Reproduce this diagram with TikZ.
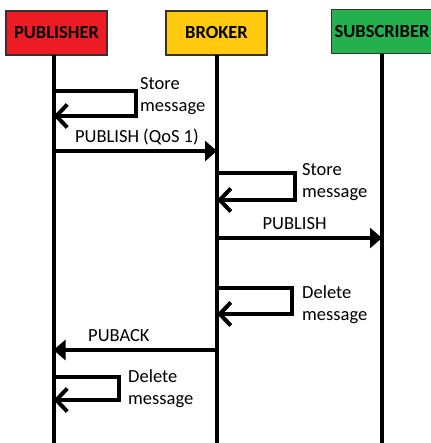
\documentclass[tikz,border=0pt]{standalone}
\usepackage{fontspec}
\setmainfont{Carlito}
\usepackage{xcolor}
\usetikzlibrary{arrows.meta}

\definecolor{pubred}{HTML}{ED1C24}
\definecolor{brkyellow}{HTML}{FFC90E}
\definecolor{subgreen}{HTML}{22B14C}

\tikzset{
  actor/.style={draw=black!80, line width=1.2pt, minimum width=101pt, minimum height=44pt,
    inner sep=0pt, font=\bfseries\fontsize{18.5}{22}\selectfont},
  lifeline/.style={line width=4pt},
  msg/.style={line width=4pt, -{Triangle[length=12pt,width=20pt]}},
  selfmsg/.style={line width=4pt, -{Straight Barb[length=11pt,width=23pt]}},
  note/.style={font=\fontsize{18.5}{22}\selectfont, align=left, inner sep=0pt, anchor=north west},
  label/.style={font=\fontsize{18.5}{22}\selectfont, inner sep=0pt, anchor=north},
}

\begin{document}
\begin{tikzpicture}[x=1pt,y=-1pt]
\useasboundingbox (0,0) rectangle (430,443);

% the three parties
\node[actor, fill=pubred] (pub) at (56.5,33) {PUBLISHER};
\node[actor, fill=brkyellow] (brk) at (216.5,33) {BROKER};
\node[actor, fill=subgreen] (sub) at (382,31.5) {SUBSCRIBER};

% lifelines
\coordinate (pubtop) at (53.5,55);
\coordinate (pubend) at (53.5,443);
\coordinate (brktop) at (217,55);
\coordinate (brkend) at (217,443);
\coordinate (subtop) at (382,54);
\coordinate (subend) at (382,443);
\draw[lifeline] (pubtop) -- (pubend);
\draw[lifeline] (brktop) -- (brkend);
\draw[lifeline] (subtop) -- (subend);

% publisher stores
\coordinate (s1a) at (pubtop |- 0,91);
\coordinate (s1b) at (pubtop |- 0,116);
\draw[selfmsg] (s1a) -- ++(82,0) -- ++(0,25) -- (s1b);
\node[note] (s1) at (140,77) {Store\\message};

% publish to broker
\coordinate (m1a) at (pubtop |- 0,151);
\coordinate (m1b) at (brktop |- 0,151);
\draw[msg] (m1a) -- (m1b) node[label, pos=0.51, above=4pt] (m1) {PUBLISH (QoS 1)};

% broker stores
\coordinate (s2a) at (brktop |- 0,173);
\coordinate (s2b) at (brktop |- 0,200);
\draw[selfmsg] (s2a) -- ++(78,0) -- ++(0,27) -- (s2b);
\node[note] (s2) at (302,163) {Store\\message};

% publish to subscriber
\coordinate (m2a) at (brktop |- 0,238);
\coordinate (m2b) at (subtop |- 0,238);
\draw[msg] (m2a) -- (m2b) node[label, pos=0.47, above=6pt] (m2) {PUBLISH};

% broker deletes
\coordinate (s3a) at (brktop |- 0,288);
\coordinate (s3b) at (brktop |- 0,314);
\draw[selfmsg] (s3a) -- ++(75,0) -- ++(0,26) -- (s3b);
\node[note] (s3) at (302,285) {Delete\\message};

% puback to publisher
\coordinate (m3a) at (brktop |- 0,350);
\coordinate (m3b) at (pubtop |- 0,350);
\draw[msg] (m3a) -- (m3b) node[label, pos=0.6, above=6pt] (m3) {PUBACK};

% publisher deletes
\coordinate (s4a) at (pubtop |- 0,377);
\coordinate (s4b) at (pubtop |- 0,400);
\draw[selfmsg] (s4a) -- ++(65,0) -- ++(0,23) -- (s4b);
\node[note] (s4) at (128,369) {Delete\\message};
\end{tikzpicture}
\end{document}
